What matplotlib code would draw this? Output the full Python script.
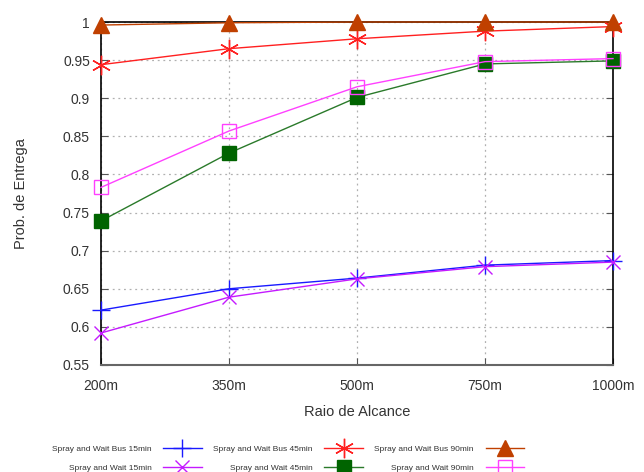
import matplotlib
matplotlib.use("Agg")
import matplotlib.pyplot as plt

plt.rcParams["font.family"] = ["Liberation Sans", "DejaVu Sans"]

raios = ["200m", "350m", "500m", "750m", "1000m"]

bus_15 = [0.622, 0.650, 0.664, 0.681, 0.687]
bus_45 = [0.944, 0.965, 0.978, 0.988, 0.994]
bus_90 = [0.996, 0.999, 1.000, 1.000, 1.000]
wait_15 = [0.592, 0.639, 0.663, 0.679, 0.685]
wait_45 = [0.739, 0.828, 0.901, 0.945, 0.949]
wait_90 = [0.783, 0.857, 0.915, 0.948, 0.952]

TXT = "#333333"

fig = plt.figure(figsize=(6.44, 4.72), dpi=100)
ax = fig.add_axes([101 / 644, 1 - 365 / 472, 512 / 644, 343 / 472])

x = list(range(len(raios)))

series = [
    ("Spray and Wait Bus 15min", bus_15, dict(color="#1a1aff", marker="+", ms=13, mew=1.0)),
    ("Spray and Wait 15min", wait_15, dict(color="#c41aff", marker="x", ms=10, mew=1.0)),
    ("Spray and Wait Bus 45min", bus_45, dict(color="#ff2020", marker=(6, 2, 0), ms=14, mew=1.0)),
    ("Spray and Wait 45min", wait_45, dict(color="#2a7a2a", marker="s", ms=10, mfc="#006400", mec="#006400")),
    ("Spray and Wait Bus 90min", bus_90, dict(color="#c04000", marker="^", ms=12, mfc="#c04000", mec="#c04000")),
    ("Spray and Wait 90min", wait_90, dict(color="#ff40ff", marker="s", ms=10, mfc="none", mew=1.0)),
]

handles = []
for label, vals, st in series:
    ln, = ax.plot(x, vals, lw=1.0, clip_on=False, zorder=3, **st)
    handles.append(ln)

ax.set_xlim(0, len(raios) - 1)
ax.set_ylim(0.55, 1.0)
ax.set_xticks(x)
ax.set_xticklabels(raios)
ax.set_yticks([0.55 + 0.05 * i for i in range(10)])
ax.set_yticklabels(["0.55", "0.6", "0.65", "0.7", "0.75", "0.8", "0.85", "0.9", "0.95", "1"])

ax.grid(True, color="#b0b0b0", linestyle=(0, (1.5, 3)), lw=0.9)
ax.tick_params(direction="in", length=5, colors="#555555", labelcolor=TXT,
               labelsize=10, right=True, pad=8)
ax.tick_params(axis="x", pad=10)
for side in ["left", "top", "right"]:
    ax.spines[side].set_color("black")
    ax.spines[side].set_linewidth(1.2)
ax.spines["bottom"].set_color("#666666")
ax.spines["bottom"].set_linewidth(1.5)

ax.set_xlabel("Raio de Alcance", color=TXT, fontsize=10.5, labelpad=8.5)
ax.set_ylabel("Prob. de Entrega", color=TXT, fontsize=10.5, labelpad=25)

leg = fig.legend(
    handles, [s[0] for s in series],
    loc="upper left", bbox_to_anchor=(52 / 644, 1 - 445 / 472),
    ncol=3, markerfirst=False, frameon=False,
    prop={"size": 6.0},
    handlelength=4.6, columnspacing=1.4, handletextpad=1.4,
    labelspacing=1.4, borderaxespad=0, borderpad=0,
)
for t in leg.get_texts():
    t.set_color(TXT)

fig.savefig("out.png", dpi=100)
